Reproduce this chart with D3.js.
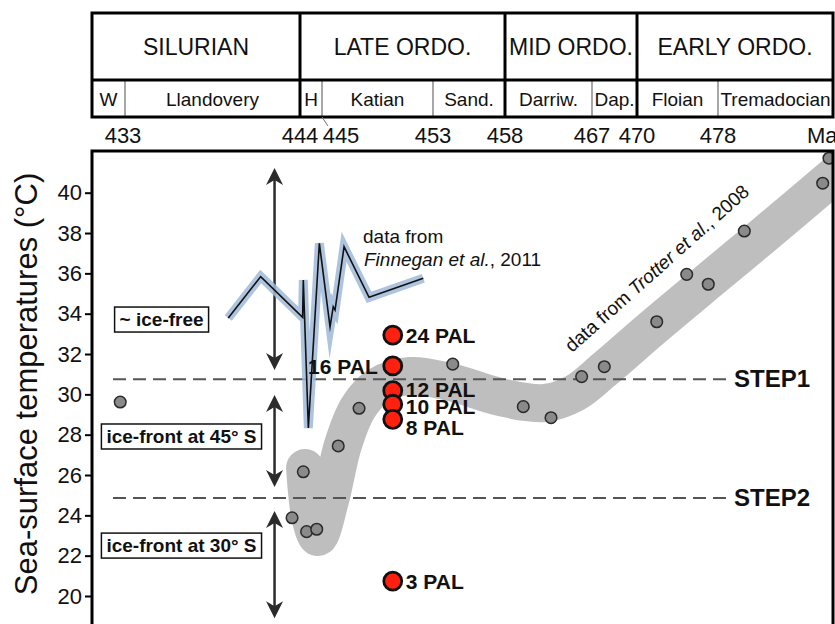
<!DOCTYPE html>
<html>
<head>
<meta charset="utf-8">
<script src="https://cdn.jsdelivr.net/npm/d3@7"></script>
<style>
  body { margin: 0; background: #fff; }
  svg { display: block; }
  text { font-family: "Liberation Sans", Arial, Helvetica, sans-serif; fill: #111; }
</style>
</head>
<body>
<div id="chart"></div>
<script>
// ---- data (ages in Ma, temperatures in °C) ----
const tickAges = [433, 444, 445, 453, 458, 467, 470, 478];
const periodNames = ["SILURIAN", "LATE ORDO.", "MID ORDO.", "EARLY ORDO."];
const periodBounds = [444, 458, 470];
const stageNames = ["W", "Llandovery", "H", "Katian", "Sand.", "Darriw.", "Dap.", "Floian", "Tremadocian"];
const stageBounds = [433, 444, 445, 453, 458, 467, 470, 478];

// Trotter et al. 2008 conodont SST
const trotterAge = [432.7, 443.5, 444.15, 444.3, 444.76, 446.17, 447.67, 454.37, 459.89, 462.76, 465.93, 467.82, 471.95, 474.91, 477.04, 480.6, 488.34, 488.96];
const trotterTemp = [29.62, 23.88, 26.16, 23.19, 23.31, 27.44, 29.31, 31.5, 29.39, 28.84, 30.88, 31.37, 33.6, 35.95, 35.46, 38.1, 40.47, 41.71];

// grey trend band (centre line)
const trendAge = [444.23, 444.5, 444.82, 445.58, 446.51, 447.59, 449.04, 451.34, 454.18, 457.65, 462.14, 465.24, 467.87, 471.28, 476.22, 482.17, 491.06];
const trendTemp = [26.35, 23.77, 22.93, 24.76, 27.49, 29.32, 30.41, 30.91, 30.61, 29.87, 29.57, 30.07, 31.26, 33.19, 35.27, 37.75, 41.52];

// Finnegan et al. 2011
const finneganAge = [439.49, 441.53, 444.12, 444.15, 444.38, 444.88, 445.58, 445.81, 445.94, 446.59, 448.39, 452.3];
const finneganTemp = [33.79, 35.84, 33.82, 35.67, 28.33, 37.49, 33.35, 34.35, 34.18, 37.32, 34.81, 35.76];

// model runs (PAL = preindustrial atmospheric level of CO2)
const palAge = 450.1;
const palLabels = ["24 PAL", "16 PAL", "12 PAL", "10 PAL", "8 PAL", "3 PAL"];
const palTemp = [32.94, 31.41, 30.18, 29.51, 28.76, 20.74];

const stepNames = ["STEP1", "STEP2"];
const stepTemp = [30.75, 24.86];

const arrowAge = 442.4;
const arrowTop = [41.23, 29.97, 24.21];
const arrowBottom = [31.21, 25.41, 18.9];

const regimeLabels = ["~ ice-free", "ice-front at 45° S", "ice-front at 30° S"];
const regimeAge = [435.3, 436.55, 436.55];
const regimeTemp = [33.71, 27.91, 22.5];

// ---- layout ----
const W = 835, H = 624;
const frameL = 92, frameR = 833, frameT = 151;
const hTop = 13, hMid = 80, hBot = 117;

const svg = d3.select("#chart").append("svg").attr("width", W).attr("height", H);

// stretched (piecewise) time axis
const x = d3.scaleLinear().domain(tickAges).range([125, 300, 322, 433, 505, 592, 637, 718]);
const y = d3.scaleLinear().domain([20, 40]).range([596, 192.7]);

// ---- stratigraphic header ----
const header = svg.append("g");
const pEdges = [frameL, ...periodBounds.map(x), frameR];
header.selectAll(".pname").data(periodNames).join("text")
  .attr("x", (d, i) => (pEdges[i] + pEdges[i + 1]) / 2)
  .attr("y", (hTop + hMid) / 2 + 8)
  .attr("text-anchor", "middle")
  .style("font-size", "23px")
  .text(d => d);

const sEdges = [frameL, ...stageBounds.map(x), frameR];
header.selectAll(".sname").data(stageNames).join("text")
  .attr("x", (d, i) => (sEdges[i] + sEdges[i + 1]) / 2)
  .attr("y", (hMid + hBot) / 2 + 7)
  .attr("text-anchor", "middle")
  .style("font-size", "19px")
  .text(d => d);

header.selectAll(".sline").data(stageBounds.filter(a => !periodBounds.includes(a))).join("line")
  .attr("x1", d => x(d)).attr("x2", d => x(d))
  .attr("y1", hMid).attr("y2", hBot)
  .attr("stroke", "#8a8a8a").attr("stroke-width", 1.5);

header.selectAll(".pline").data(periodBounds).join("line")
  .attr("x1", d => x(d)).attr("x2", d => x(d))
  .attr("y1", hTop).attr("y2", hBot)
  .attr("stroke", "#000").attr("stroke-width", 3);

header.append("line").attr("x1", frameL).attr("x2", frameR).attr("y1", hMid).attr("y2", hMid)
  .attr("stroke", "#000").attr("stroke-width", 3);
header.append("rect").attr("x", frameL).attr("y", hTop).attr("width", frameR - frameL).attr("height", hBot - hTop)
  .attr("fill", "none").attr("stroke", "#000").attr("stroke-width", 3);

// age labels (445 is pushed right with a small leader)
const labelShift = a => (a === 445 ? 19 : a === 433 ? -2 : 0);
svg.selectAll(".age").data(tickAges).join("text")
  .attr("x", d => x(d) + labelShift(d))
  .attr("y", 143)
  .attr("text-anchor", "middle")
  .style("font-size", "22px")
  .text(d => d);
svg.append("text").attr("x", 807).attr("y", 143).style("font-size", "22px").text("Ma");
svg.append("line").attr("x1", x(445)).attr("y1", hBot).attr("x2", x(445) + 6).attr("y2", 126)
  .attr("stroke", "#777").attr("stroke-width", 1);

// ---- plot area ----
svg.append("clipPath").attr("id", "clip").append("rect")
  .attr("x", frameL).attr("y", frameT).attr("width", frameR - frameL).attr("height", H - frameT + 20);
const plot = svg.append("g").attr("clip-path", "url(#clip)");

// trend band
const line = d3.line().x(d => x(d[0])).y(d => y(d[1]));
plot.append("path")
  .datum(d3.zip(trendAge, trendTemp))
  .attr("d", line.curve(d3.curveCatmullRom.alpha(0.5)))
  .attr("fill", "none").attr("stroke", "#bebebe").attr("stroke-width", 38)
  .attr("stroke-linecap", "round").attr("stroke-linejoin", "round");

// step lines
plot.selectAll(".step").data(stepTemp).join("line")
  .attr("x1", 113).attr("x2", 726)
  .attr("y1", d => y(d)).attr("y2", d => y(d))
  .attr("stroke", "#555").attr("stroke-width", 1.8).attr("stroke-dasharray", "13,7");
svg.selectAll(".stepl").data(stepNames).join("text")
  .attr("x", 734).attr("y", (d, i) => y(stepTemp[i]) + 8)
  .style("font-size", "24px").style("font-weight", "bold")
  .text(d => d);

// double arrows
const ax = x(arrowAge);
arrowTop.forEach((t, i) => {
  const y1 = y(t), y2 = y(arrowBottom[i]);
  plot.append("line").attr("x1", ax).attr("x2", ax).attr("y1", y1 + 8).attr("y2", y2 - 8)
    .attr("stroke", "#2b2b2b").attr("stroke-width", 2.5);
  plot.append("path").attr("d", `M${ax},${y1} l-8.5,17 l8.5,-5 l8.5,5 z`).attr("fill", "#2b2b2b");
  plot.append("path").attr("d", `M${ax},${y2} l-8.5,-17 l8.5,5 l8.5,-5 z`).attr("fill", "#2b2b2b");
});

// regime boxes
regimeLabels.forEach((lab, i) => {
  const g = svg.append("g");
  const t = g.append("text")
    .attr("x", x(regimeAge[i])).attr("y", y(regimeTemp[i]) + 6.5)
    .attr("text-anchor", "middle")
    .style("font-size", "19px").style("font-weight", "bold")
    .text(lab);
  const b = t.node().getBBox();
  g.insert("rect", "text")
    .attr("x", b.x - 5).attr("y", y(regimeTemp[i]) - 12.5)
    .attr("width", b.width + 10).attr("height", 25)
    .attr("fill", "#fff").attr("stroke", "#111").attr("stroke-width", 1.5);
});

// Trotter points
plot.selectAll(".trot").data(d3.zip(trotterAge, trotterTemp)).join("circle")
  .attr("cx", d => x(d[0])).attr("cy", d => y(d[1])).attr("r", 5.8)
  .attr("fill", "#8a8a8a").attr("stroke", "#2a2a2a").attr("stroke-width", 1.5);

// PAL model results
plot.selectAll(".pal").data(palTemp).join("circle")
  .attr("cx", x(palAge)).attr("cy", d => y(d)).attr("r", 9)
  .attr("fill", "#ff2010").attr("stroke", "#111").attr("stroke-width", 2.8);

const palDy = [8, 8, 6.5, 10, 16, 8];
svg.selectAll(".pall").data(palLabels).join("text")
  .attr("x", (d, i) => (i === 1 ? x(palAge) - 15 : x(palAge) + 13))
  .attr("y", (d, i) => y(palTemp[i]) + palDy[i])
  .attr("text-anchor", (d, i) => (i === 1 ? "end" : "start"))
  .style("font-size", "21px").style("font-weight", "bold")
  .text(d => d);

// Finnegan curve with blue halo
const fin = d3.zip(finneganAge, finneganTemp);
line.curve(d3.curveLinear);
plot.append("path").datum(fin).attr("d", line)
  .attr("fill", "none").attr("stroke", "#9fb9d8").attr("stroke-opacity", 0.85)
  .attr("stroke-width", 9).attr("stroke-linejoin", "miter").attr("stroke-miterlimit", 10);
plot.append("path").datum(fin).attr("d", line)
  .attr("fill", "none").attr("stroke", "#111").attr("stroke-width", 1.6)
  .attr("stroke-linejoin", "miter").attr("stroke-miterlimit", 10);

// source notes
svg.append("text").attr("x", 363).attr("y", 243).style("font-size", "19px").text("data from");
const fn = svg.append("text").attr("x", 364).attr("y", 266).style("font-size", "19px");
fn.append("tspan").style("font-style", "italic").text("Finnegan et al.");
fn.append("tspan").text(", 2011");

const tr = svg.append("text").attr("transform", "translate(572,353) rotate(-41.8)").style("font-size", "19px");
tr.append("tspan").text("data from ");
tr.append("tspan").style("font-style", "italic").text("Trotter et al.");
tr.append("tspan").text(", 2008");

// y axis
const yAxis = svg.append("g").attr("transform", `translate(${frameL},0)`)
  .call(d3.axisLeft(y).tickValues(d3.range(20, 41, 2)).tickSize(7).tickPadding(3));
yAxis.select(".domain").remove();
yAxis.selectAll("line").attr("stroke", "#000").attr("stroke-width", 2);
yAxis.selectAll("text").style("font-size", "22px").attr("fill", "#111")
  .style("font-family", "'Liberation Sans', Arial, sans-serif");

svg.append("text")
  .attr("transform", "translate(37,384) rotate(-90)")
  .attr("text-anchor", "middle")
  .style("font-size", "31px")
  .text("Sea-surface temperatures (°C)");

// plot frame
svg.append("rect").attr("x", frameL).attr("y", frameT).attr("width", frameR - frameL).attr("height", H)
  .attr("fill", "none").attr("stroke", "#000").attr("stroke-width", 3);
</script>
</body>
</html>
